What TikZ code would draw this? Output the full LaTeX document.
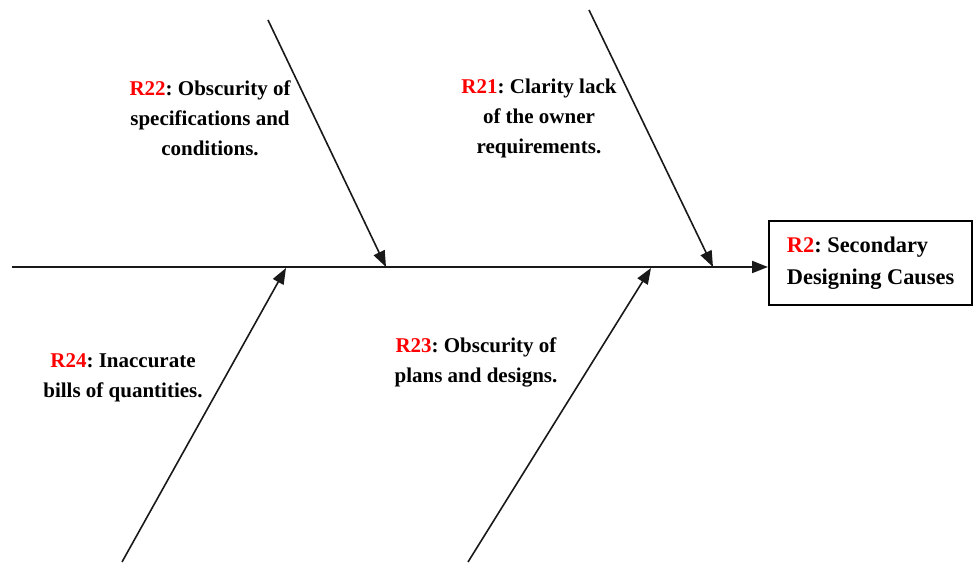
\documentclass[tikz,border=0pt]{standalone}
\usepackage{fontspec}
\setmainfont{Liberation Serif}
\usepackage{xcolor}
\usetikzlibrary{arrows.meta, positioning}
\newcommand{\rid}[1]{\textcolor{red}{#1}}
\frenchspacing

\begin{document}
\begin{tikzpicture}[x=0.5pt, y=-0.5pt, >={Triangle[length=8pt, width=6pt]},
    cause/.style={font=\bfseries\fontsize{10.5}{15}\selectfont, align=center, inner sep=0pt},
    branch/.style={->, line width=0.8pt, black!90},
    effectbox/.style={draw, line width=0.9pt, minimum height=42pt,
        inner xsep=9pt, align=left, anchor=west,
        font=\bfseries\fontsize{11.2}{16}\selectfont}]

\useasboundingbox (0,0) rectangle (974,565);

% ── EFFECT ───────────────────────────────────────────────────────
\node[effectbox] (effect) at (768,263) {\rid{R2}: Secondary\\Designing Causes};

% ── SPINE ────────────────────────────────────────────────────────
\coordinate (spinestart) at (12,267);
\draw[->, line width=1pt, black!90] (spinestart) -- (effect.west |- spinestart);

% ── TOP BRANCHES ─────────────────────────────────────────────────
\coordinate (r22tail) at (268,20);
\coordinate (r22head) at (386,267);
\draw[branch] (r22tail) -- (r22head);
\node[cause] (r22) at (210,118) {\rid{R22}: Obscurity of\\specifications and\\conditions.};

\coordinate (r21tail) at (589,10);
\coordinate (r21head) at (713,267);
\draw[branch] (r21tail) -- (r21head);
\node[cause] (r21) at (539,118) {\rid{R21}: Clarity lack\\of the owner\\requirements.};

% ── BOTTOM BRANCHES ──────────────────────────────────────────────
\coordinate (r24tail) at (122,562);
\coordinate (r24head) at (286,268);
\draw[branch] (r24tail) -- (r24head);
\node[cause] (r24) at (123,378) {\rid{R24}: Inaccurate\\bills of quantities.};

\coordinate (r23tail) at (468,562);
\coordinate (r23head) at (651,268);
\draw[branch] (r23tail) -- (r23head);
\node[cause] (r23) at (476,362) {\rid{R23}: Obscurity of\\plans and designs.};

\end{tikzpicture}
\end{document}
